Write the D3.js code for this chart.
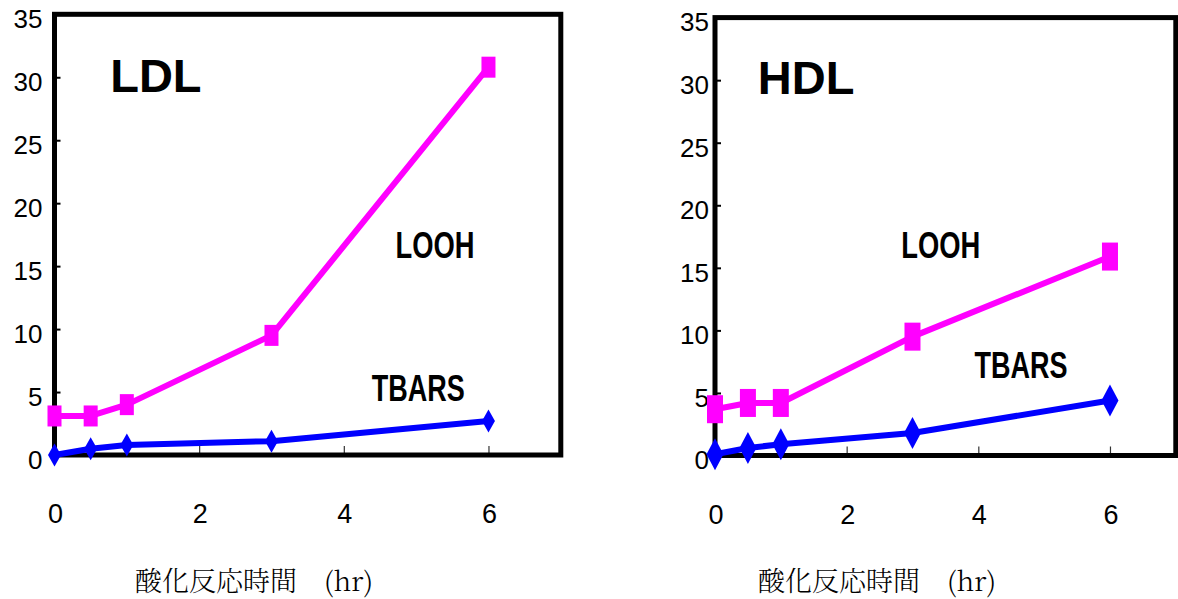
<!DOCTYPE html>
<html>
<head>
<meta charset="utf-8">
<script src="https://cdn.jsdelivr.net/npm/d3@7/dist/d3.min.js"></script>
<style>
  html, body { margin: 0; padding: 0; background: #fff; }
  svg { display: block; }
</style>
</head>
<body>
<svg id="chart" width="1178" height="599"></svg>
<script>
// Oxidation time course (hours) and measured products
const hours = [0, 0.5, 1, 3, 6];
const ldlLooh = [3.1, 3.1, 4.0, 9.5, 30.8];
const ldlTbars = [0.0, 0.5, 0.8, 1.1, 2.7];
const hdlLooh = [3.7, 4.2, 4.2, 9.5, 15.9];
const hdlTbars = [0.1, 0.6, 0.9, 1.8, 4.4];

const yTickValues = [0, 5, 10, 15, 20, 25, 30, 35];
const xTickValues = [0, 2, 4, 6];
const xAxisTitle = "酸化反応時間　(hr)";

const panels = [
  {
    title: "LDL", looh: ldlLooh, tbars: ldlTbars,
    x0: 54.5, x1: 560.8, yTop: 14.3, yBottom: 455,
    titlePos: [0.77, 28.8], loohPos: [5.26, 15.65], tbarsPos: [5.03, 4.29],
    labelGap: 12, axisTitleX: 135,
    square: [14, 21], diamond: [13, 23]
  },
  {
    title: "HDL", looh: hdlLooh, tbars: hdlTbars,
    x0: 715, x1: 1175.8, yTop: 17.6, yBottom: 455.5,
    titlePos: [0.65, 28.9], loohPos: [3.43, 15.8], tbarsPos: [4.65, 6.2],
    labelGap: 6, axisTitleX: 758,
    square: [16, 28], diamond: [17, 32]
  }
];

const MAGENTA = "#ff00ff";
const BLUE = "#0000ff";
const svg = d3.select("#chart");

panels.forEach(p => {
  const x = d3.scaleLinear().domain([0, 7]).range([p.x0, p.x1]);
  const y = d3.scaleLinear().domain([0, 35]).range([p.yBottom, p.yTop]);
  const g = svg.append("g");

  // inward tick marks on the value axis
  const yAxis = d3.axisRight(y).tickValues(yTickValues.filter(v => v > 0 && v < 35))
    .tickSize(6).tickFormat("");
  g.append("g").attr("transform", `translate(${p.x0},0)`).call(yAxis)
    .call(s => s.select(".domain").remove())
    .call(s => s.selectAll("line").attr("stroke", "#000").attr("stroke-width", 2));

  // inward tick marks on the time axis
  const xAxis = d3.axisTop(x).tickValues(xTickValues.filter(v => v > 0))
    .tickSize(9).tickFormat("");
  g.append("g").attr("transform", `translate(0,${p.yBottom})`).call(xAxis)
    .call(s => s.select(".domain").remove())
    .call(s => s.selectAll("line").attr("stroke", "#333").attr("stroke-width", 1.2));

  // value labels
  g.append("g").selectAll("text").data(yTickValues).join("text")
    .attr("x", p.x0 - p.labelGap)
    .attr("y", d => y(d) + 7)
    .attr("text-anchor", "end")
    .attr("dominant-baseline", "middle")
    .attr("font-family", "'Liberation Sans', Arial, sans-serif")
    .attr("font-size", 26)
    .attr("fill", "#000")
    .text(d => d);

  // time labels
  g.append("g").selectAll("text").data(xTickValues).join("text")
    .attr("x", d => x(d) + 1)
    .attr("y", p.yBottom + 61)
    .attr("text-anchor", "middle")
    .attr("dominant-baseline", "middle")
    .attr("font-family", "'Liberation Sans', Arial, sans-serif")
    .attr("font-size", 27)
    .attr("fill", "#000")
    .text(d => d);

  // axis title
  g.append("text")
    .attr("x", p.axisTitleX)
    .attr("y", 591)
    .attr("font-family", "'Noto Serif CJK JP', 'Liberation Serif', 'Noto Sans CJK JP', serif")
    .attr("font-size", 27)
    .attr("font-weight", 300)
    .attr("fill", "#000")
    .text(xAxisTitle);

  // plot frame
  g.append("rect")
    .attr("x", x(0)).attr("y", y(35))
    .attr("width", x(7) - x(0)).attr("height", y(0) - y(35))
    .attr("fill", "none").attr("stroke", "#000").attr("stroke-width", 5);

  // panel title and series names
  g.append("text")
    .attr("x", x(p.titlePos[0])).attr("y", y(p.titlePos[1]))
    .attr("font-family", "'Liberation Sans', Arial, sans-serif")
    .attr("font-weight", "bold").attr("font-size", 47)
    .attr("fill", "#000")
    .text(p.title);

  const seriesLabel = (pos, txt, w) => g.append("text")
    .attr("x", x(pos[0])).attr("y", y(pos[1]))
    .attr("text-anchor", "middle")
    .attr("font-family", "'Liberation Sans', Arial, sans-serif")
    .attr("font-weight", "bold").attr("font-size", 36)
    .attr("textLength", w).attr("lengthAdjust", "spacingAndGlyphs")
    .attr("fill", "#000")
    .text(txt);
  seriesLabel(p.loohPos, "LOOH", 79);
  seriesLabel(p.tbarsPos, "TBARS", 93);

  const line = d3.line().x(d => x(d[0])).y(d => y(d[1]));
  const loohPts = hours.map((h, i) => [h, p.looh[i]]);
  const tbarsPts = hours.map((h, i) => [h, p.tbars[i]]);

  g.append("path").datum(loohPts).attr("d", line)
    .attr("fill", "none").attr("stroke", MAGENTA).attr("stroke-width", 6)
    .attr("stroke-linejoin", "round");
  g.append("path").datum(tbarsPts).attr("d", line)
    .attr("fill", "none").attr("stroke", BLUE).attr("stroke-width", 6)
    .attr("stroke-linejoin", "round");

  const [sw, sh] = p.square;
  g.append("g").selectAll("rect").data(loohPts).join("rect")
    .attr("x", d => x(d[0]) - sw / 2).attr("y", d => y(d[1]) - sh / 2)
    .attr("width", sw).attr("height", sh)
    .attr("fill", MAGENTA);

  const [dw, dh] = p.diamond;
  g.append("g").selectAll("path").data(tbarsPts).join("path")
    .attr("d", d => {
      const cx = x(d[0]), cy = y(d[1]);
      return `M${cx},${cy - dh / 2}L${cx + dw / 2},${cy}L${cx},${cy + dh / 2}L${cx - dw / 2},${cy}Z`;
    })
    .attr("fill", BLUE);
});
</script>
</body>
</html>
